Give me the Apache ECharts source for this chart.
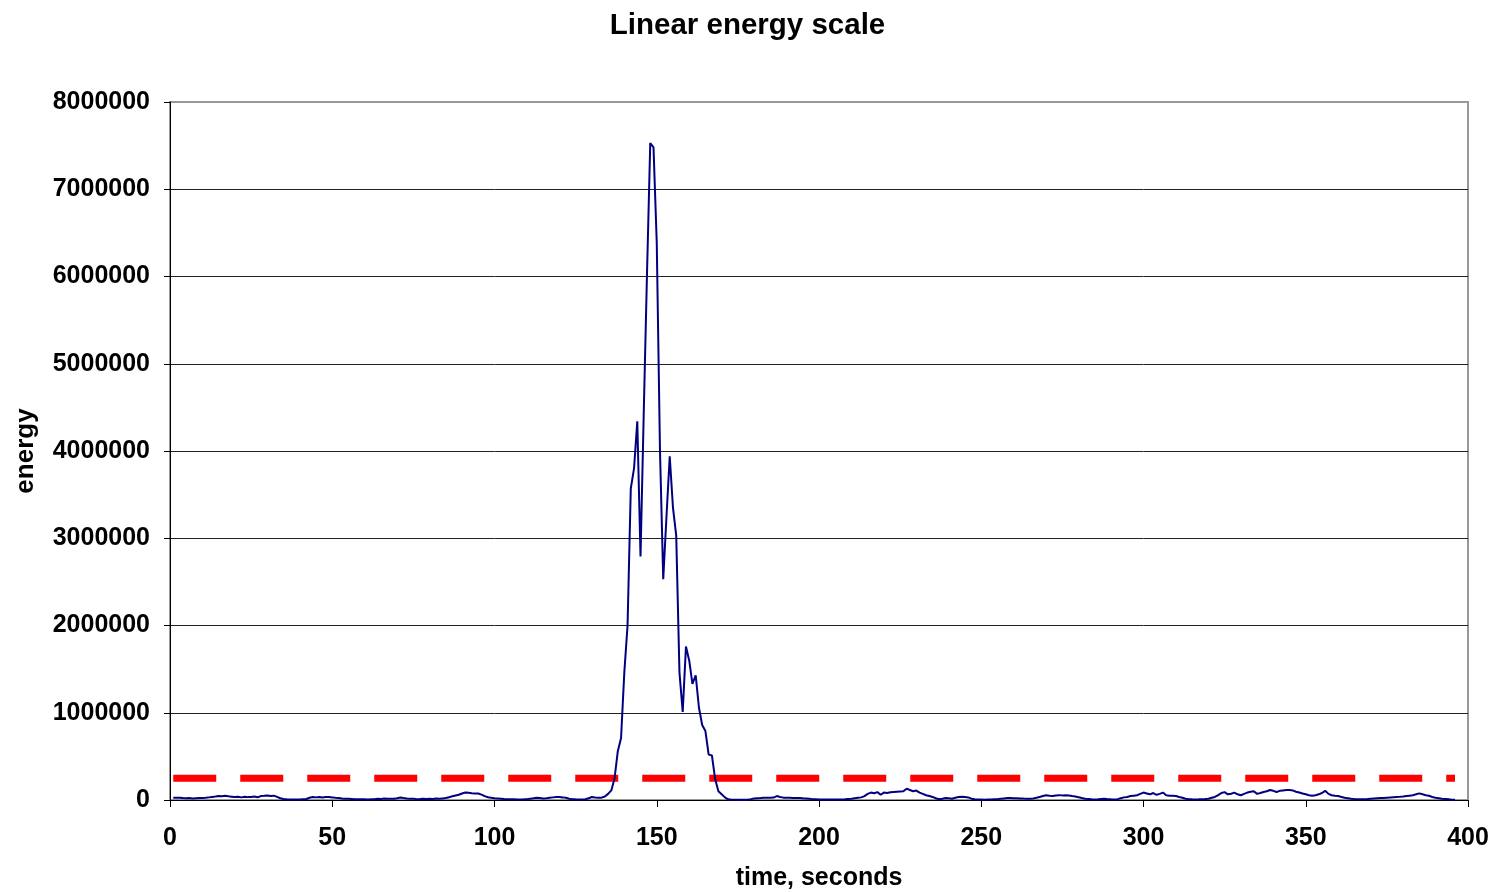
<!DOCTYPE html>
<html>
	<head>
		<meta charset="utf-8">
		<title>Linear energy scale</title>
		<script src="https://cdn.jsdelivr.net/npm/echarts@6/dist/echarts.min.js"></script>
		<style>
			html, body { margin: 0; padding: 0; background: #fff; }
		</style>
	</head>
	<body>
		<div id="main" style="width: 1495px;height: 892px;"></div>
		<script type="text/javascript">
			// time of the first sample, one sample per second
			var firstSecond = 1;

			// energy per second
			var energy = [
				27000, 25000, 26000, 22000, 20000, 22000, 18000, 21000, 23000, 23000,
				25000, 30000, 35000, 40000, 46000, 44000, 48000, 42000, 38000, 34000,
				36000, 30000, 38000, 33000, 35000, 40000, 32000, 45000, 48000, 52000,
				46000, 50000, 35000, 20000, 12000, 8000, 7000, 5000, 6000, 5000,
				10000, 12000, 25000, 35000, 30000, 35000, 28000, 34000, 33000, 30000,
				25000, 22000, 16000, 15000, 14000, 12000, 10000, 9000, 8000, 8000,
				7000, 9000, 10000, 14000, 12000, 16000, 14000, 15000, 15000, 20000,
				28000, 22000, 18000, 15000, 14000, 10000, 12000, 15000, 12000, 14000,
				12000, 16000, 14000, 18000, 22000, 32000, 42000, 52000, 60000, 75000,
				85000, 82000, 78000, 75000, 75000, 62000, 45000, 32000, 25000, 20000,
				18000, 15000, 12000, 10000, 8000, 8000, 6000, 7000, 8000, 10000,
				15000, 20000, 26000, 22000, 18000, 20000, 25000, 30000, 35000, 34000,
				30000, 25000, 15000, 10000, 8000, 7000, 7000, 8000, 20000, 34000,
				28000, 27000, 27000, 40000, 70000, 110000, 250000, 560000, 710000, 1460000,
				2000000, 3570000, 3800000, 4340000, 2790000, 4450000, 6040000, 7530000, 7480000, 6390000,
				4000000, 2530000, 3250000, 3940000, 3350000, 3030000, 1460000, 1010000, 1760000, 1600000,
				1330000, 1430000, 1060000, 860000, 790000, 520000, 510000, 240000, 100000, 65000,
				30000, 8000, 3000, 3000, 3000, 3000, 3000, 3000, 10000, 18000,
				20000, 22000, 25000, 27000, 27000, 28000, 45000, 35000, 27000, 26000,
				25000, 24000, 24000, 23000, 20000, 18000, 15000, 10000, 8000, 5000,
				5000, 5000, 5000, 5000, 5000, 5000, 6000, 8000, 12000, 15000,
				20000, 25000, 30000, 45000, 70000, 85000, 78000, 90000, 60000, 85000,
				80000, 88000, 92000, 95000, 98000, 100000, 130000, 115000, 100000, 108000,
				85000, 70000, 55000, 45000, 35000, 20000, 8000, 15000, 23000, 20000,
				15000, 25000, 34000, 36000, 34000, 30000, 15000, 8000, 6000, 5000,
				4000, 5000, 6000, 8000, 10000, 14000, 18000, 22000, 24000, 20000,
				19000, 18000, 16000, 15000, 15000, 18000, 25000, 35000, 45000, 55000,
				48000, 46000, 52000, 55000, 53000, 54000, 52000, 45000, 40000, 32000,
				22000, 15000, 12000, 8000, 7000, 8000, 12000, 15000, 10000, 8000,
				7000, 10000, 20000, 30000, 35000, 45000, 50000, 55000, 70000, 85000,
				75000, 65000, 80000, 60000, 70000, 85000, 55000, 50000, 48000, 46000,
				35000, 25000, 15000, 10000, 8000, 7000, 8000, 10000, 12000, 15000,
				25000, 35000, 55000, 80000, 90000, 65000, 72000, 84000, 65000, 55000,
				70000, 85000, 95000, 100000, 70000, 80000, 92000, 100000, 115000, 105000,
				92000, 105000, 110000, 115000, 115000, 110000, 95000, 85000, 75000, 65000,
				55000, 48000, 55000, 65000, 80000, 105000, 70000, 55000, 48000, 45000,
				35000, 25000, 20000, 15000, 12000, 10000, 8000, 10000, 12000, 15000,
				18000, 20000, 22000, 24000, 27000, 30000, 32000, 34000, 36000, 40000,
				45000, 50000, 55000, 65000, 76000, 65000, 55000, 48000, 35000, 25000,
				20000, 15000, 12000, 8000, 4000, 2000
			];

			// threshold level (red dashed line)
			var threshold = 250000;

			var xTicks = { min: 0, max: 400, step: 50 };
			var yTicks = { min: 0, max: 8000000, step: 1000000 };

			var lastSecond = firstSecond + energy.length - 1;
			var energyData = energy.map(function (v, i) { return [firstSecond + i, v]; });
			var thresholdData = [[firstSecond, threshold], [lastSecond, threshold]];

			var fontFamily = '"Liberation Sans", Arial, sans-serif';

			var myChart = echarts.init(document.getElementById('main'));
			var option = {
				animation: false,
				backgroundColor: '#fff',
				title: {
					text: 'Linear energy scale',
					left: 'center',
					top: 6,
					textStyle: { fontFamily: fontFamily, fontSize: 29.5, fontWeight: 'bold', color: '#000' }
				},
				grid: {
					left: 170,
					right: 27,
					top: 102,
					bottom: 92,
					containLabel: false,
					outerBoundsMode: 'none',
					show: true,
					borderColor: '#999',
					borderWidth: 2
				},
				xAxis: {
					type: 'value',
					min: xTicks.min,
					max: xTicks.max,
					interval: xTicks.step,
					name: 'time, seconds',
					nameLocation: 'middle',
					nameGap: 66,
					nameTextStyle: { fontFamily: fontFamily, fontSize: 25, fontWeight: 'bold', color: '#000' },
					axisLine: { lineStyle: { color: '#000', width: 1 } },
					axisTick: { show: true, inside: false, length: 7, lineStyle: { color: '#000' } },
					axisLabel: { margin: 26, fontFamily: fontFamily, fontSize: 25, fontWeight: 'bold', color: '#000' },
					splitLine: { show: false }
				},
				yAxis: {
					type: 'value',
					min: yTicks.min,
					max: yTicks.max,
					interval: yTicks.step,
					name: 'energy',
					nameLocation: 'middle',
					nameGap: 131,
					nameTextStyle: { fontFamily: fontFamily, fontSize: 26, fontWeight: 'bold', color: '#000' },
					axisLine: { show: true, lineStyle: { color: '#000', width: 1 } },
					axisTick: { show: true, inside: false, length: 6, lineStyle: { color: '#000' } },
					axisLabel: {
						margin: 20,
						fontFamily: fontFamily, fontSize: 25, fontWeight: 'bold', color: '#000',
						formatter: function (v) { return String(v); }
					},
					splitLine: {
						show: true,
						lineStyle: {
							color: ['#222', '#222', '#222', '#222', '#222', '#222', '#222', '#222', '#999'],
							width: 1
						}
					}
				},
				series: [{
					name: 'energy',
					type: 'line',
					data: energyData,
					showSymbol: false,
					symbol: 'none',
					lineStyle: { color: '#000080', width: 2 },
					z: 3
				}, {
					name: 'threshold',
					type: 'line',
					data: thresholdData,
					showSymbol: false,
					symbol: 'none',
					lineStyle: { color: '#ff0000', width: 7, type: [43, 24], cap: 'butt' },
					z: 2
				}]
			};
			myChart.setOption(option);
		</script>
	</body>
</html>
